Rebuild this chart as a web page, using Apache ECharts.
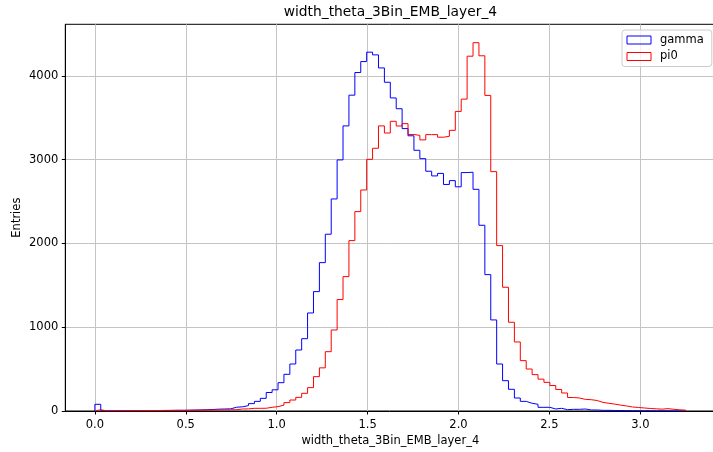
<!DOCTYPE html>
<html>
<head>
<meta charset="utf-8">
<script src="https://cdn.jsdelivr.net/npm/echarts@6/dist/echarts.min.js"></script>
<style>
  html, body { margin: 0; padding: 0; background: #ffffff; }
  #chart { width: 713px; height: 452px; }
</style>
</head>
<body>
<div id="chart"></div>
<script>
// Histogram of the shower width variable for two particle types
const varName = 'width_theta_3Bin_EMB_layer_4';
const binRange = [0, 3.25];
const seriesNames = ['gamma', 'pi0'];

// Entries per bin (100 equal bins over binRange)
const gammaCounts = [
  80, 3, 2, 3, 3, 4, 4, 4, 5, 5,
  6, 6, 7, 8, 8, 9, 11, 13, 15, 18,
  22, 24, 26, 45, 50, 64, 88, 115, 151, 221,
  253, 338, 438, 561, 728, 863, 1170, 1425, 1771, 2110,
  2531, 2997, 3403, 3770, 4040, 4171, 4283, 4251, 4095, 3924,
  3737, 3608, 3371, 3285, 3112, 3012, 2862, 2806, 2836, 2704,
  2750, 2676, 2846, 2850, 2646, 2217, 1628, 1087, 561, 362,
  259, 155, 115, 92, 80, 44, 44, 24, 32, 16,
  20, 20, 24, 12, 12, 8, 8, 6, 6, 5,
  4, 4, 3, 3, 2, 2, 2, 1, 1, 1
];
const pi0Counts = [
  15, 2, 2, 3, 3, 4, 4, 5, 5, 6,
  6, 7, 7, 8, 8, 9, 10, 10, 11, 12,
  12, 13, 14, 16, 24, 25, 32, 32, 33, 44,
  52, 70, 100, 131, 163, 211, 279, 410, 515, 708,
  967, 1330, 1604, 2034, 2380, 2638, 3004, 3136, 3403, 3318,
  3458, 3402, 3430, 3300, 3290, 3236, 3299, 3299, 3268, 3279,
  3350, 3576, 3723, 4235, 4396, 4240, 3767, 2857, 1974, 1477,
  1059, 824, 601, 501, 434, 380, 342, 304, 257, 215,
  161, 155, 139, 135, 125, 103, 92, 82, 70, 60,
  48, 42, 36, 30, 26, 22, 28, 20, 14, 10
];

const xTicks = [0, 0.5, 1.0, 1.5, 2.0, 2.5, 3.0];
const yTicks = [0, 1000, 2000, 3000, 4000];

// Outline of a step histogram: up at each bin edge, across the bin top
function stepOutline(counts) {
  const w = (binRange[1] - binRange[0]) / counts.length;
  const pts = [[binRange[0], 0]];
  counts.forEach((c, i) => {
    const x0 = binRange[0] + i * w;
    pts.push([x0, c], [x0 + w, c]);
  });
  pts.push([binRange[1], 0]);
  return pts;
}

// 5% padding around the data, as in a default matplotlib axes
const span = binRange[1] - binRange[0];
const xMin = binRange[0] - 0.05 * span;
const xMax = binRange[1] + 0.05 * span;
const yMax = Math.max(...gammaCounts, ...pi0Counts) * 1.05;

const font = 'DejaVu Sans';
const colors = ['#0000ff', '#ff0000'];
const gridLine = { show: true, lineStyle: { color: '#c4c4c4', width: 1 } };

const chart = echarts.init(document.getElementById('chart'), null, { renderer: 'canvas' });
chart.setOption({
  animation: false,
  backgroundColor: '#ffffff',
  title: {
    text: varName,
    left: 390.4,
    top: 5,
    padding: 0,
    textAlign: 'center',
    textStyle: { fontFamily: font, fontSize: 13.8, fontWeight: 'normal', color: '#000' }
  },
  legend: {
    orient: 'vertical',
    left: 622,
    top: 30,
    padding: [4, 8, 4, 4.5],
    itemWidth: 24,
    itemHeight: 8,
    itemGap: 4.5,
    backgroundColor: 'rgba(255,255,255,0.8)',
    borderColor: '#cccccc',
    borderWidth: 1,
    borderRadius: 3,
    textStyle: { fontFamily: font, fontSize: 11.5, color: '#000', padding: [0, 0, 0, 4] },
    data: seriesNames.map((n, i) => ({
      name: n,
      icon: 'rect',
      itemStyle: { color: 'rgba(255,255,255,0)', borderColor: colors[i], borderWidth: 1 }
    }))
  },
  grid: {
    left: 65.3,
    top: 24.3,
    width: 650,
    bottom: 41,
    outerBoundsMode: 'none',
    show: true,
    borderColor: '#000',
    borderWidth: 1,
    backgroundColor: 'rgba(0,0,0,0)'
  },
  xAxis: {
    type: 'value',
    min: xMin,
    max: xMax,
    name: varName,
    nameLocation: 'middle',
    nameGap: 24,
    nameMoveOverlap: false,
    nameTextStyle: { fontFamily: font, fontSize: 11.5, color: '#000' },
    axisLine: { onZero: false, lineStyle: { color: '#000', width: 1 } },
    axisTick: { show: true, length: 3.5, lineStyle: { color: '#000' }, customValues: xTicks },
    axisLabel: {
      customValues: xTicks,
      margin: 8,
      fontFamily: font, fontSize: 11.5, color: '#000',
      formatter: v => v.toFixed(1)
    },
    splitLine: gridLine
  },
  yAxis: {
    type: 'value',
    min: 0,
    max: yMax,
    name: 'Entries',
    nameLocation: 'middle',
    nameGap: 42,
    nameMoveOverlap: false,
    nameTextStyle: { fontFamily: font, fontSize: 11.5, color: '#000' },
    axisLine: { show: true, onZero: false, lineStyle: { color: '#000', width: 1 } },
    axisTick: { show: true, length: 3.5, lineStyle: { color: '#000' }, customValues: yTicks },
    axisLabel: {
      customValues: yTicks,
      margin: 7,
      fontFamily: font, fontSize: 11.5, color: '#000',
      formatter: v => String(v)
    },
    splitLine: gridLine
  },
  series: [
    {
      name: seriesNames[0],
      type: 'line',
      data: stepOutline(gammaCounts),
      showSymbol: false,
      color: colors[0],
      lineStyle: { color: colors[0], width: 1 },
      z: 2
    },
    {
      name: seriesNames[1],
      type: 'line',
      data: stepOutline(pi0Counts),
      showSymbol: false,
      color: colors[1],
      lineStyle: { color: colors[1], width: 1 },
      z: 3
    }
  ]
});
</script>
</body>
</html>
